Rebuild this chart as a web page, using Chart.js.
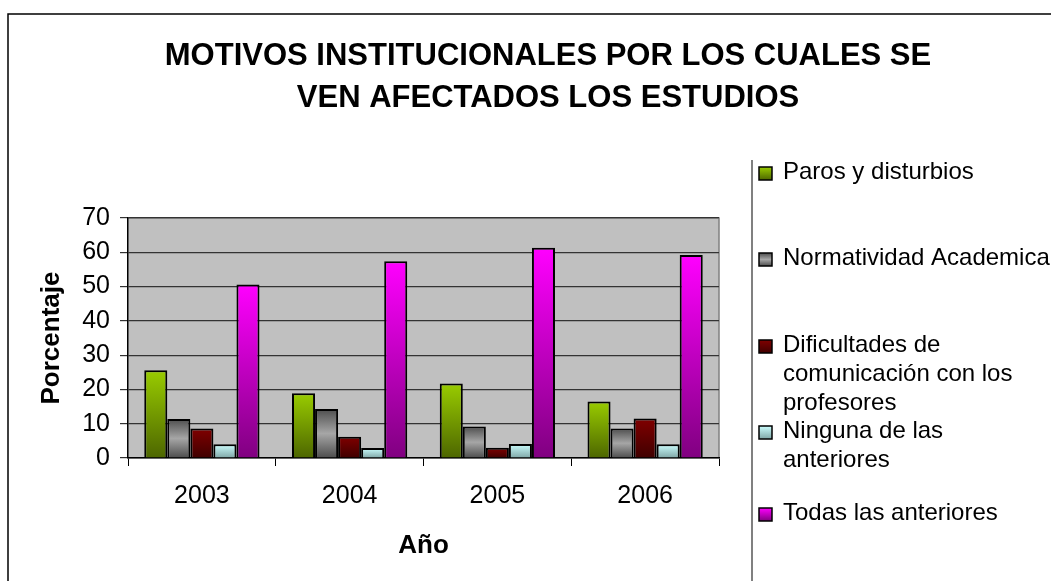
<!DOCTYPE html>
<html>
<head>
<meta charset="utf-8">
<script src="https://cdn.jsdelivr.net/npm/chart.js@4/dist/chart.umd.min.js"></script>
<style>
  html, body { margin: 0; padding: 0; background: #fff; }
  #wrap { width: 1051px; height: 581px; position: relative; }
</style>
</head>
<body>
<div id="wrap"><canvas id="motivosChart"></canvas></div>
<script>
const anios = ['2003', '2004', '2005', '2006'];
const paros = [25.6, 18.9, 21.7, 16.5];
const normatividad = [11.4, 14.3, 9.2, 8.6];
const dificultades = [8.6, 6.2, 3.0, 11.5];
const ninguna = [4.0, 2.9, 4.1, 4.0];
const todas = [50.6, 57.4, 61.3, 59.2];
const ticksY = [0, 10, 20, 30, 40, 50, 60, 70];

const titulo = ['MOTIVOS INSTITUCIONALES POR LOS CUALES SE', 'VEN AFECTADOS LOS ESTUDIOS'];
const leyenda = [
  ['Paros y disturbios'],
  ['Normatividad Academica'],
  ['Dificultades de', 'comunicación con los', 'profesores'],
  ['Ninguna de las', 'anteriores'],
  ['Todas las anteriores']
];

// colores del degradado: arriba -> abajo
const degradados = [
  ['#9c0', '#4d6600'],
  ['#4d4d4d', '#a6a6a6', '#4d4d4d'],
  ['#800000', '#400000'],
  ['#ccffff', '#7fa6a6'],
  ['#ff00ff', '#800080']
];

const fuente = "'Liberation Sans', Arial, sans-serif";

function relleno(idx) {
  return function (context) {
    const chart = context.chart;
    const area = chart.chartArea;
    if (!area || context.parsed === undefined) return degradados[idx][0];
    const y = chart.scales.y;
    const top = y.getPixelForValue(context.parsed.y);
    const base = y.getPixelForValue(0);
    const g = chart.ctx.createLinearGradient(0, top, 0, base === top ? top + 1 : base);
    const cols = degradados[idx];
    cols.forEach((c, i) => g.addColorStop(i / (cols.length - 1), c));
    return g;
  };
}

function cuadroLeyenda(ctx, x, y, idx) {
  const g = ctx.createLinearGradient(0, y, 0, y + 13);
  const cols = degradados[idx];
  cols.forEach((c, i) => g.addColorStop(i / (cols.length - 1), c));
  ctx.fillStyle = g;
  ctx.fillRect(x, y, 13, 13);
  ctx.strokeStyle = '#000';
  ctx.lineWidth = 1.5;
  ctx.strokeRect(x, y, 13, 13);
}

const marco = {
  id: 'marco',
  beforeDraw(chart) {
    const ctx = chart.ctx;
    const a = chart.chartArea;
    ctx.save();
    ctx.fillStyle = '#fff';
    ctx.fillRect(0, 0, chart.width, chart.height);
    // borde exterior
    ctx.strokeStyle = '#000';
    ctx.lineWidth = 1.5;
    ctx.beginPath();
    ctx.moveTo(8, chart.height + 2);
    ctx.lineTo(8, 14);
    ctx.lineTo(chart.width + 2, 14);
    ctx.stroke();
    // fondo del area de trazado
    ctx.fillStyle = '#c0c0c0';
    ctx.fillRect(a.left, a.top, a.right - a.left, a.bottom - a.top);
    ctx.strokeStyle = '#808080';
    ctx.lineWidth = 1.5;
    ctx.beginPath();
    ctx.moveTo(a.left, a.top);
    ctx.lineTo(a.right, a.top);
    ctx.lineTo(a.right, a.bottom);
    ctx.stroke();
    // titulo
    ctx.fillStyle = '#000';
    ctx.font = 'bold 31px ' + fuente;
    ctx.textAlign = 'center';
    ctx.textBaseline = 'middle';
    titulo.forEach((t, i) => ctx.fillText(t, 548, 56 + i * 42));
    ctx.restore();
  },
  afterDraw(chart) {
    const ctx = chart.ctx;
    ctx.save();
    // caja de la leyenda
    ctx.strokeStyle = '#808080';
    ctx.lineWidth = 2;
    ctx.beginPath();
    ctx.moveTo(752, 160);
    ctx.lineTo(752, chart.height);
    ctx.stroke();
    const filas = [172, 258, 345, 431, 513];
    ctx.font = '24px ' + fuente;
    ctx.textAlign = 'left';
    ctx.textBaseline = 'middle';
    leyenda.forEach((lineas, i) => {
      cuadroLeyenda(ctx, 759, filas[i] - 5, i);
      ctx.fillStyle = '#000';
      lineas.forEach((l, j) => ctx.fillText(l, 783, filas[i] + j * 29));
    });
    ctx.restore();
  }
};

const ctx = document.getElementById('motivosChart').getContext('2d');
const series = [paros, normatividad, dificultades, ninguna, todas];
const motivosChart = new Chart(ctx, {
  type: 'bar',
  data: {
    labels: anios,
    datasets: series.map((d, i) => ({
      label: leyenda[i].join(' '),
      data: d,
      backgroundColor: relleno(i),
      borderColor: '#000',
      borderWidth: 2,
      borderSkipped: 'bottom',
      categoryPercentage: 0.78,
      barPercentage: 1.0
    }))
  },
  options: {
    responsive: true,
    maintainAspectRatio: false,
    animation: false,
    layout: { padding: { top: 218, right: 332, left: 0, bottom: 0 } },
    plugins: {
      legend: { display: false },
      title: { display: false },
      tooltip: { enabled: false }
    },
    scales: {
      x: {
        grid: { drawOnChartArea: false, offset: true, tickLength: 8, color: '#000' },
        border: { color: '#000', width: 1.5 },
        ticks: { color: '#000', font: { family: fuente, size: 25 }, padding: 15 },
        title: {
          display: true, text: 'Año', color: '#000',
          font: { family: fuente, size: 26, weight: 'bold' },
          padding: { top: 0, bottom: 20 }
        },
        afterFit(scale) { scale.height = 123; }
      },
      y: {
        min: 0,
        max: 70,
        afterBuildTicks(scale) { scale.ticks = ticksY.map(v => ({ value: v })); },
        grid: { color: '#333', lineWidth: 1.2, tickLength: 8 },
        border: { color: '#000', width: 1.5 },
        ticks: { color: '#000', font: { family: fuente, size: 25 }, padding: 10 },
        title: {
          display: true, text: 'Porcentaje', color: '#000',
          font: { family: fuente, size: 26, weight: 'bold' },
          padding: { top: 36, bottom: 0 }
        },
        afterFit(scale) { scale.width = 128; }
      }
    }
  },
  plugins: [marco]
});
</script>
</body>
</html>
